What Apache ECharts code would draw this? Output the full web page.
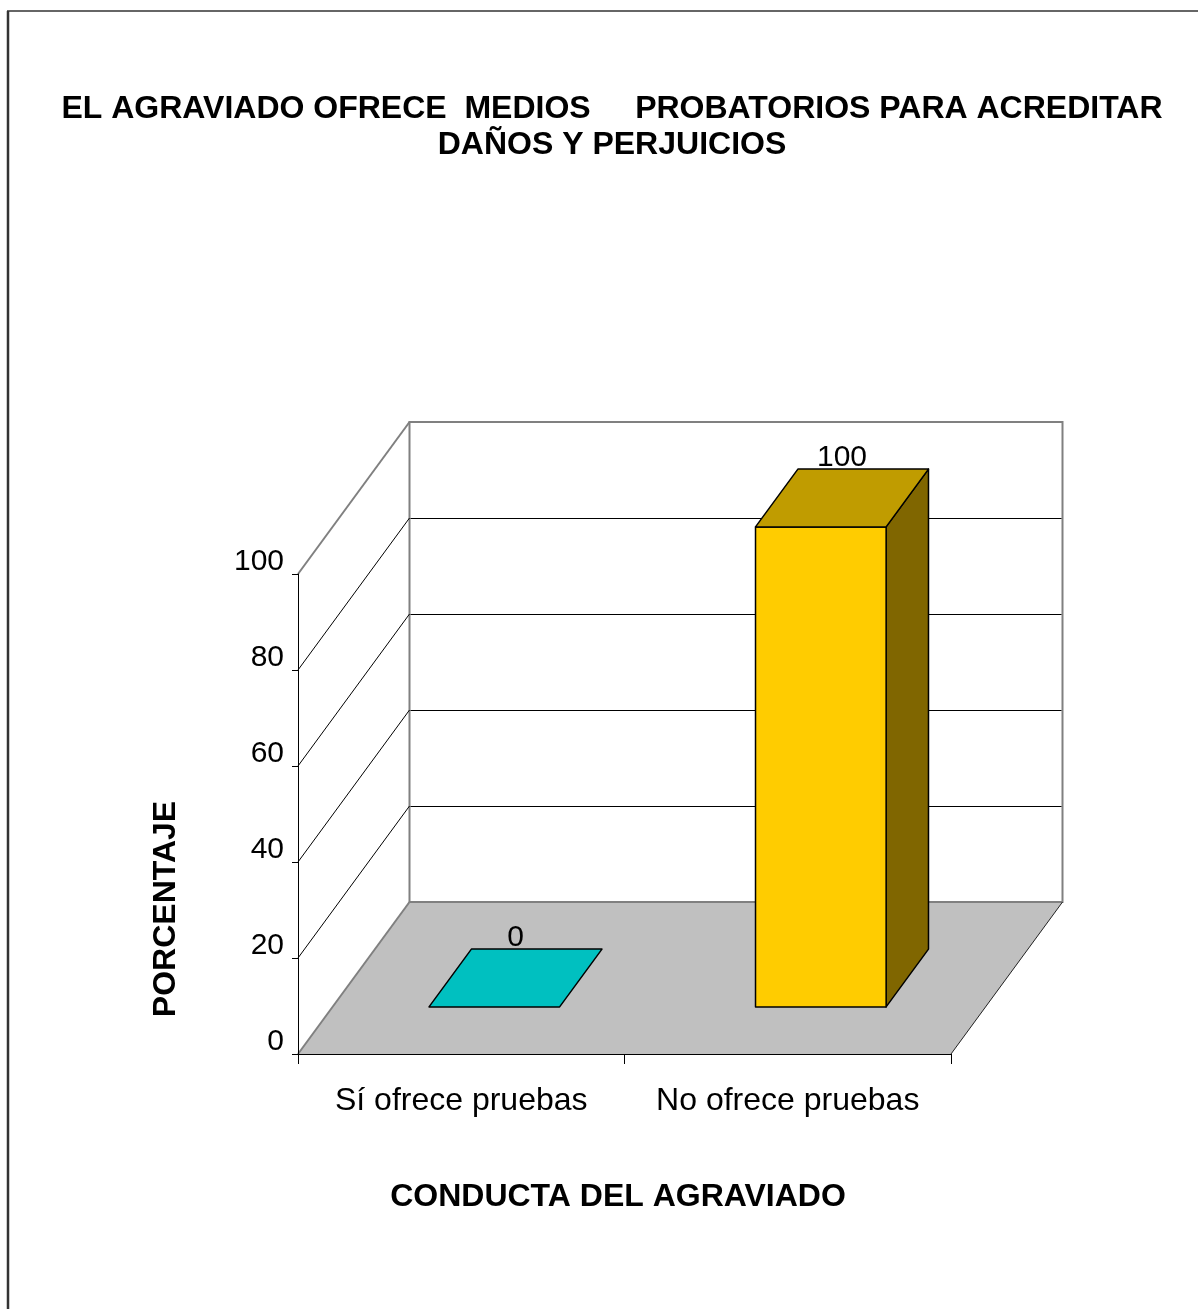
<!DOCTYPE html>
<html><head><meta charset="utf-8">
<script src="https://cdn.jsdelivr.net/npm/echarts@6/dist/echarts.min.js"></script>
<style>html,body{margin:0;padding:0;background:#fff}#c{width:1198px;height:1309px}</style>
</head><body><div id="c"></div>
<script>
// ---- data ----
const categories = ['Sí ofrece pruebas', 'No ofrece pruebas'];
const values = [0, 100];
const yTicks = [0, 20, 40, 60, 80, 100];
const titleText = 'EL AGRAVIADO OFRECE  MEDIOS     PROBATORIOS PARA ACREDITAR\nDAÑOS Y PERJUICIOS';
const yTitle = 'PORCENTAJE';
const xTitle = 'CONDUCTA DEL AGRAVIADO';
const frontColors = ['#00FFFF', '#FFCC00'];
const topColors = ['#00C0C0', '#C09C00'];
const sideColors = ['#008080', '#806600'];

// ---- style constants ----
const DX = 111.5, DY = -152;   // depth projection of the 3D box
const F0 = 0.31, F1 = 0.69;    // bar depth range (fraction of depth)
const BAR = 0.4;               // bar width (fraction of band)
const FONT = '"Liberation Sans", Arial, sans-serif';

const chart = echarts.init(document.getElementById('c'), null, {renderer: 'canvas'});

const px = v => Math.round(v) + 0.5;

function renderWalls(params, api) {
  const cs = params.coordSys;
  const x0 = cs.x, x1 = cs.x + cs.width;
  const yB = api.coord([0, yTicks[0]])[1];
  const yT = api.coord([0, yTicks[yTicks.length - 1]])[1];
  const ch = [];
  ch.push({type: 'rect', shape: {x: x0 + DX, y: yT + DY, width: x1 - x0, height: yB - yT},
    style: {fill: '#fff', stroke: '#808080', lineWidth: 2}});
  ch.push({type: 'polygon', shape: {points: [[x0, yB], [x1, yB], [x1 + DX, yB + DY], [x0 + DX, yB + DY]]},
    style: {fill: '#C0C0C0'}});
  ch.push({type: 'line', shape: {x1: x0 + DX, y1: yB + DY, x2: x1 + DX, y2: yB + DY},
    style: {stroke: '#808080', lineWidth: 2}});
  yTicks.slice(1, -1).forEach(v => {
    const y = api.coord([0, v])[1];
    ch.push({type: 'line', shape: {x1: x0 + DX + 1, y1: px(y + DY), x2: x1 + DX - 1, y2: px(y + DY)}, style: {stroke: '#000', lineWidth: 1}});
    ch.push({type: 'line', shape: {x1: x0, y1: y, x2: x0 + DX, y2: y + DY}, style: {stroke: '#000', lineWidth: 1}});
  });
  ch.push({type: 'line', shape: {x1: x0, y1: yT, x2: x0 + DX, y2: yT + DY}, style: {stroke: '#808080', lineWidth: 2}});
  ch.push({type: 'line', shape: {x1: x0, y1: yB, x2: x0 + DX, y2: yB + DY}, style: {stroke: '#808080', lineWidth: 2}});
  ch.push({type: 'line', shape: {x1: x1, y1: yB, x2: x1 + DX, y2: yB + DY}, style: {stroke: '#222', lineWidth: 1}});
  return {type: 'group', children: ch};
}

function renderBar(params, api) {
  const i = params.dataIndex;
  const cat = api.value(0), v = api.value(1);
  const bw = api.size([1, 0])[0];
  const c = api.coord([cat, 0]);
  const t = api.coord([cat, v]);
  const w = bw * BAR;
  const fx0 = c[0] - w / 2 + F0 * DX - 1.5, fx1 = c[0] + w / 2 + F0 * DX - 1.5;
  const fyB = c[1] + F0 * DY, fyT = t[1] + F0 * DY;
  const ddx = (F1 - F0) * DX, ddy = (F1 - F0) * DY;
  const st = {stroke: '#000', lineWidth: 1.5, lineJoin: 'round'};
  const ch = [];
  if (fyB - fyT > 0.5) {
    ch.push({type: 'polygon', shape: {points: [[fx1, fyB], [fx1 + ddx, fyB + ddy], [fx1 + ddx, fyT + ddy], [fx1, fyT]]},
      style: Object.assign({fill: sideColors[i]}, st)});
    ch.push({type: 'rect', shape: {x: fx0, y: fyT, width: fx1 - fx0, height: fyB - fyT},
      style: Object.assign({fill: frontColors[i]}, st)});
  }
  ch.push({type: 'polygon', shape: {points: [[fx0, fyT], [fx1, fyT], [fx1 + ddx, fyT + ddy], [fx0 + ddx, fyT + ddy]]},
    style: Object.assign({fill: topColors[i]}, st)});
  ch.push({type: 'text', x: (fx0 + fx1) / 2 + ddx / 2, y: fyT + ddy + 4,
    style: {text: String(v), fill: '#000', fontSize: 30, fontFamily: FONT, align: 'center', verticalAlign: 'bottom'}});
  return {type: 'group', children: ch};
}

const option = {
  backgroundColor: '#fff',
  animation: false,
  grid: {left: 298, top: 574, right: 247, bottom: 255, containLabel: false, outerBoundsMode: 'none'},
  xAxis: {
    type: 'category', data: categories, z: 10,
    axisLine: {show: true, lineStyle: {color: '#000', width: 1}},
    axisTick: {show: true, length: 10, lineStyle: {color: '#000'}},
    axisLabel: {interval: 0, fontSize: 32, color: '#000', fontFamily: FONT, margin: 31},
    splitLine: {show: false}
  },
  yAxis: {
    type: 'value', min: 0, max: 100, interval: 20, z: 10,
    axisLine: {show: true, lineStyle: {color: '#000', width: 1}},
    axisTick: {show: true, length: 6, lineStyle: {color: '#000'}},
    axisLabel: {fontSize: 30, color: '#000', fontFamily: FONT, margin: 14, verticalAlign: 'bottom', lineHeight: 24},
    splitLine: {show: false}
  },
  series: [
    {type: 'custom', renderItem: renderWalls, data: [[0, 0]], z: 1, silent: true},
    {type: 'custom', renderItem: renderBar, data: values.map((v, i) => [i, v]), z: 3}
  ],
  graphic: [
    {type: 'text', x: 612, y: 127, style: {text: titleText, fill: '#000', fontSize: 32, fontWeight: 'bold', fontFamily: FONT, align: 'center', verticalAlign: 'middle', lineHeight: 36}},
    {type: 'text', x: 166, y: 909, rotation: Math.PI / 2, style: {text: yTitle, fill: '#000', fontSize: 32, fontWeight: 'bold', fontFamily: FONT, align: 'center', verticalAlign: 'middle'}},
    {type: 'text', x: 618, y: 1197, style: {text: xTitle, fill: '#000', fontSize: 32, fontWeight: 'bold', fontFamily: FONT, align: 'center', verticalAlign: 'middle'}},
    {type: 'line', shape: {x1: 7, y1: 11, x2: 1198, y2: 11}, style: {stroke: '#333', lineWidth: 1.5}},
    {type: 'line', shape: {x1: 8, y1: 11, x2: 8, y2: 1309}, style: {stroke: '#333', lineWidth: 2.5}}
  ]
};
chart.setOption(option);
</script>
</body></html>
